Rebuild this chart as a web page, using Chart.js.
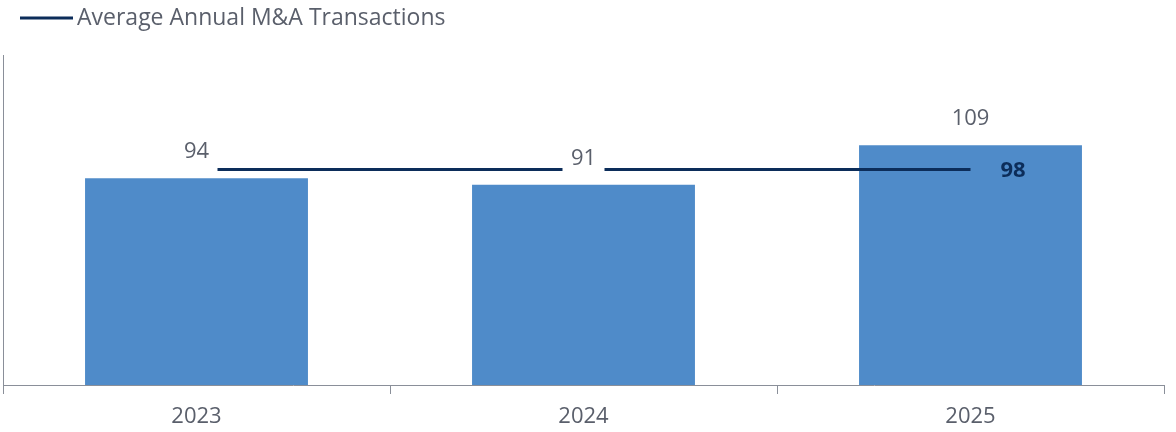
<!DOCTYPE html>
<html>
<head>
<meta charset="utf-8">
<script src="https://cdn.jsdelivr.net/npm/chart.js@4"></script>
<style>
  html, body { margin: 0; padding: 0; background: #fff; }
  #wrap { width: 1176px; height: 432px; position: relative; }
</style>
</head>
<body>
<div id="wrap"><canvas id="mnaChart"></canvas></div>
<script>
// chart data
const years = ['2023', '2024', '2025'];
const transactions = [94, 91, 109];
const averageLine = [98, 98, 98];
const averageLabel = 'Average Annual M&A Transactions';

const barColor = '#4f8bc9';
const navy = '#0c2d5a';
const textGray = '#5a5f6b';
const fontFamily = "'Open Sans', 'Noto Sans', sans-serif";

// draws legend, value labels and the average label
const labelPlugin = {
    id: 'labelPlugin',
    afterDatasetsDraw(chart) {
        const ctx = chart.ctx;
        ctx.save();

        // legend
        ctx.strokeStyle = navy;
        ctx.lineWidth = 3;
        ctx.beginPath();
        ctx.moveTo(20, 18);
        ctx.lineTo(73, 18);
        ctx.stroke();
        ctx.fillStyle = textGray;
        ctx.font = '23px ' + fontFamily;
        ctx.textAlign = 'left';
        ctx.textBaseline = 'middle';
        ctx.fillText(averageLabel, 77, 18);

        // bar value labels with white box over the line
        const bars = chart.getDatasetMeta(0).data;
        ctx.font = '22px ' + fontFamily;
        ctx.textAlign = 'center';
        bars.forEach((bar, i) => {
            const cy = bar.y - 26;
            ctx.fillStyle = '#fff';
            ctx.fillRect(bar.x - 21, cy - 14, 42, 34);
            ctx.fillStyle = textGray;
            ctx.fillText(String(transactions[i]), bar.x, cy);
        });

        // average label
        const pts = chart.getDatasetMeta(1).data;
        const last = pts[pts.length - 1];
        ctx.fillStyle = navy;
        ctx.font = 'bold 22px ' + fontFamily;
        ctx.textAlign = 'left';
        ctx.fillText(String(averageLine[averageLine.length - 1]), last.x + 30, last.y + 1);
        ctx.restore();
    }
};

const ctx = document.getElementById('mnaChart').getContext('2d');
new Chart(ctx, {
    data: {
        labels: years,
        datasets: [{
            type: 'bar',
            label: 'Transactions',
            data: transactions,
            backgroundColor: barColor,
            barPercentage: 0.576,
            categoryPercentage: 1,
            order: 2
        }, {
            type: 'line',
            label: averageLabel,
            data: averageLine,
            borderColor: navy,
            borderWidth: 3,
            pointRadius: 0,
            fill: false,
            order: 1
        }]
    },
    options: {
        responsive: true,
        maintainAspectRatio: false,
        animation: false,
        layout: { padding: { top: 55, left: 3, right: 12, bottom: 0 } },
        plugins: {
            legend: { display: false },
            tooltip: { enabled: false }
        },
        scales: {
            x: {
                afterFit: s => { s.height = 47; },
                grid: {
                    offset: true,
                    drawOnChartArea: false,
                    drawTicks: true,
                    tickLength: 9,
                    color: '#8a8f99'
                },
                border: { color: '#8a8f99' },
                ticks: {
                    color: textGray,
                    font: { size: 22, family: fontFamily },
                    padding: 10
                }
            },
            y: {
                min: 0,
                max: 150,
                afterFit: s => { s.width = 0; },
                grid: { display: false },
                border: { color: '#8a8f99' },
                ticks: { display: false }
            }
        }
    },
    plugins: [labelPlugin]
});
</script>
</body>
</html>
